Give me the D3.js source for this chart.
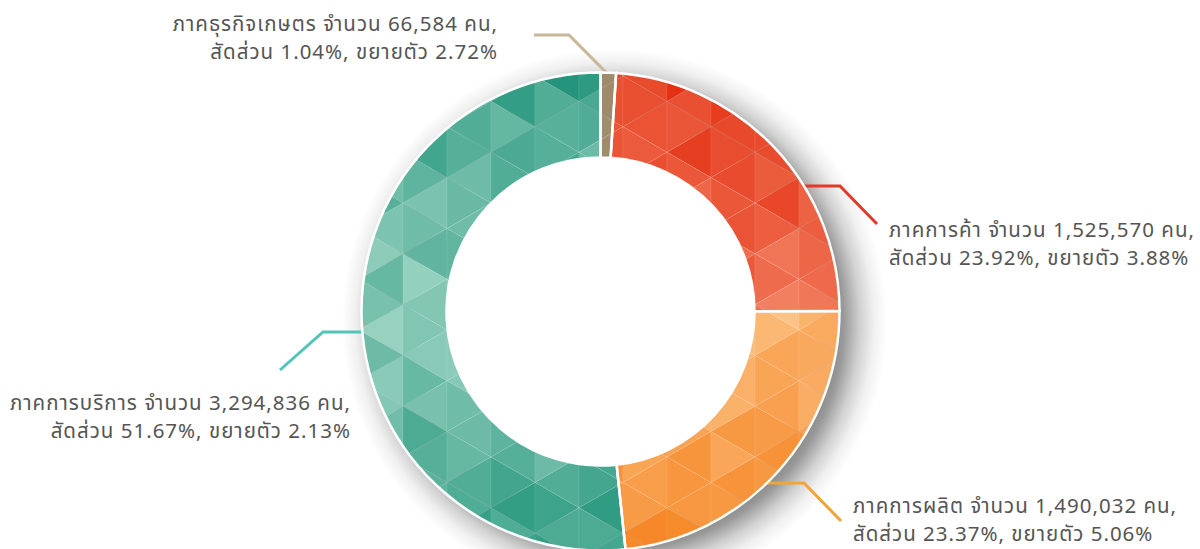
<!DOCTYPE html>
<html>
<head>
<meta charset="utf-8">
<script src="https://cdn.jsdelivr.net/npm/d3@7"></script>
<style>
  body { margin: 0; background: #fff; }
  text { font-family: Tahoma, "Noto Sans Thai", "Noto Sans", sans-serif; font-size: 20.5px; letter-spacing: 1px; fill: #555; }
</style>
</head>
<body>
<div id="chart"></div>
<script>
// data
var sectors = ['ภาคธุรกิจเกษตร', 'ภาคการค้า', 'ภาคการผลิต', 'ภาคการบริการ'];
var workers = [66584, 1525570, 1490032, 3294836];
var shares = [1.04, 23.92, 23.37, 51.67];
var growth = [2.72, 3.88, 5.06, 2.13];

// colours: [dark, light] for the triangle shading, plus the leader colour
var darkColors = ['#9c8867', '#e2280b', '#f5811d', '#21947a'];
var lightColors = ['#a99676', '#f48c6c', '#fdcc95', '#b0dece'];
var lineColors = ['#c8b89a', '#e5382a', '#f0a535', '#52c4b8'];

// label placement (layout only)
var labelLayout = [
  { anchor: 'end',   x: 498, y: 31,  elbow: [569, 35],  tail: [534, 35] },
  { anchor: 'start', x: 889, y: 237, elbow: [840, 186], tail: [877, 224] },
  { anchor: 'start', x: 853, y: 513, elbow: [804, 483], tail: [841, 521] },
  { anchor: 'end',   x: 351, y: 410, elbow: [323, 332], tail: [280, 370] }
];

var width = 1200, height = 549;
var cx = 600.5, cy = 311.5;
var outerR = 239, innerR = 154;
var fmt = d3.format(',');

var svg = d3.select('#chart').append('svg')
  .attr('width', width)
  .attr('height', height);

var defs = svg.append('defs');

// soft shadow ring, down and to the right of the donut
var shadowR = outerR + 34, sdx = 14, sdy = 10;
var grad = defs.append('radialGradient')
  .attr('id', 'shadow')
  .attr('gradientUnits', 'userSpaceOnUse')
  .attr('cx', cx + sdx).attr('cy', cy + sdy)
  .attr('r', shadowR);
[[0, 0], [0.7, 0], [0.78, 0.5], [0.84, 0.4], [0.9, 0.18], [0.95, 0.06], [1, 0]].forEach(function(s) {
  grad.append('stop')
    .attr('offset', s[0])
    .attr('stop-color', '#000')
    .attr('stop-opacity', s[1]);
});
svg.append('circle')
  .attr('cx', cx + sdx).attr('cy', cy + sdy)
  .attr('r', shadowR)
  .attr('fill', 'url(#shadow)');

var data = sectors.map(function(s, i) {
  return { name: s, value: workers[i], share: shares[i], growth: growth[i], i: i };
});

var pie = d3.pie().sort(null).value(function(d) { return d.value; });
var arcs = pie(data);

var arc = d3.arc().innerRadius(innerR).outerRadius(outerR);
var outerArc = d3.arc().innerRadius(outerR).outerRadius(outerR);

// leader lines first, so the donut hides where they meet it
var lines = svg.append('g');
arcs.forEach(function(a) {
  var L = labelLayout[a.data.i];
  var dy = L.elbow[1] - cy;
  var start;
  if (Math.abs(dy) < outerR) {
    var dx = Math.sqrt(outerR * outerR - dy * dy);
    start = [cx + (L.elbow[0] > cx ? dx - 3 : -dx + 3), L.elbow[1]];
  } else {
    var c = outerArc.centroid(a);
    start = [cx + c[0], cy + c[1] + 2];
  }
  lines.append('path')
    .attr('d', d3.line()([start, L.elbow, L.tail]))
    .attr('fill', 'none')
    .attr('stroke', lineColors[a.data.i])
    .attr('stroke-width', 3);
});

var g = svg.append('g')
  .attr('transform', 'translate(' + cx + ',' + cy + ')');

// white hole so the shadow stays outside
g.append('circle')
  .attr('r', innerR)
  .attr('fill', '#fff');

// triangle grid, clipped to each slice
function hash(i, j, s) {
  var x = Math.sin(i * 127.1 + j * 311.7 + s * 74.7) * 43758.5453;
  return x - Math.floor(x);
}

var colW = 44, side = colW * 2 / Math.sqrt(3);
var x0 = 22.5, y0 = 18.5;
var tris = [];
for (var k = -7; k <= 6; k++) {
  var xa = x0 + k * colW, xb = xa + colW;
  var offA = (k % 2 === 0) ? 0 : side / 2;
  var offB = (k % 2 === 0) ? side / 2 : 0;
  for (var j = -7; j <= 6; j++) {
    var ya = y0 + offA + j * side, yb = y0 + offB + j * side;
    if (offA === 0) {
      tris.push({ k: k, j: j, t: 0, pts: [[xa, ya], [xa, ya + side], [xb, yb]] });
      tris.push({ k: k, j: j, t: 1, pts: [[xb, yb], [xb, yb + side], [xa, ya + side]] });
    } else {
      tris.push({ k: k, j: j, t: 0, pts: [[xb, yb], [xb, yb + side], [xa, ya]] });
      tris.push({ k: k, j: j, t: 1, pts: [[xa, ya], [xa, ya + side], [xb, yb + side]] });
    }
  }
}

// lighter near the horizontal middle, darker at top and bottom
function shade(d, i) {
  var my = (d.pts[0][1] + d.pts[1][1] + d.pts[2][1]) / 3;
  var band = Math.max(0, 1 - Math.abs(my) / outerR);
  var n = hash(d.k, d.j * 2 + d.t, i);
  return Math.min(1, 0.56 * band + 0.35 * n);
}

arcs.forEach(function(a) {
  var i = a.data.i;
  defs.append('clipPath')
    .attr('id', 'clip' + i)
    .append('path')
    .attr('d', arc(a));

  var mix = d3.interpolateRgb(darkColors[i], lightColors[i]);
  g.append('g')
    .attr('clip-path', 'url(#clip' + i + ')')
    .selectAll('path')
    .data(tris)
    .enter()
    .append('path')
    .attr('d', function(d) { return 'M' + d.pts.join('L') + 'Z'; })
    .attr('fill', function(d) { return mix(shade(d, i)); })
    .attr('stroke', 'rgba(255,255,255,0.1)')
    .attr('stroke-width', 0.8);
});

// white slice borders
g.selectAll('.edge')
  .data(arcs)
  .enter()
  .append('path')
  .attr('class', 'edge')
  .attr('d', arc)
  .attr('fill', 'none')
  .attr('stroke', '#fff')
  .attr('stroke-width', 2.5);

// labels
arcs.forEach(function(a) {
  var d = a.data, L = labelLayout[d.i];
  var t = svg.append('text')
    .attr('text-anchor', L.anchor)
    .attr('x', L.x)
    .attr('y', L.y);
  t.append('tspan')
    .attr('x', L.x)
    .text(d.name + ' จำนวน ' + fmt(d.value) + ' คน,');
  t.append('tspan')
    .attr('x', L.x)
    .attr('dy', 28)
    .text('สัดส่วน ' + d.share.toFixed(2) + '%, ขยายตัว ' + d.growth.toFixed(2) + '%');
});
</script>
</body>
</html>
